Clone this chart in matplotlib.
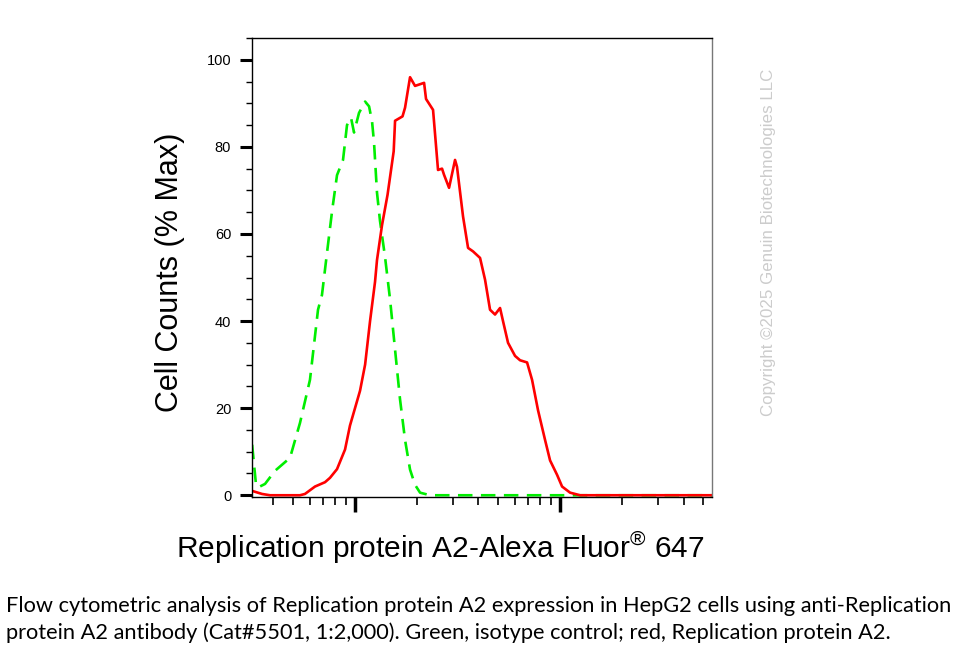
import numpy as np
import matplotlib
matplotlib.use("Agg")
import matplotlib.pyplot as plt
from matplotlib.ticker import LogLocator, NullFormatter, MultipleLocator

plt.rcParams['font.family'] = ['Liberation Sans', 'DejaVu Sans']
plt.rcParams['mathtext.fontset'] = 'custom'
plt.rcParams['mathtext.rm'] = 'Liberation Sans'

# fluorescence intensity (log scale) and % max counts
red_x = [31.5, 35.2, 38.5, 53.9, 57.0, 63.8, 71.4, 75.5, 81.7, 89.4, 94.5, 100,
         105.8, 112, 118.4, 125.2, 128.0, 135.4, 144.1, 154.4, 156.8, 170.5, 175.4,
         185.5, 196.2, 217.2, 222, 240.2, 254, 265.7, 271.7, 287.5, 307.5, 314.4,
         336.4, 355.9, 376.3, 407.2, 430.7, 455.5, 481.8, 509.7, 526.9, 557.6,
         603.2, 638.1, 690.4, 730.3, 781, 845, 893.8, 966.8, 1023, 1119, 1252, 5508]
red_y = [1.0, 0.3, 0, 0, 0.3, 2, 3, 4, 6, 10.5, 16, 20,
         24, 30, 40, 49, 54, 62, 69, 79, 86, 87, 89,
         96, 94, 94.7, 91, 88.5, 74.7, 75, 73.6, 70.6, 77, 75.4,
         64, 56.8, 56, 54.5, 49.5, 42.6, 41.5, 43, 40, 35,
         32, 31, 30.5, 26.5, 19.5, 12.7, 8, 4.7, 2, 0.6, 0, 0]

green_x = [31.5, 32.9, 33.7, 36.4, 40.7, 48.2, 53.9, 60.3, 66.0, 69.0, 73.5, 77.4,
           81.7, 87.4, 91.4, 95.6, 98.9, 104.6, 112, 117.1, 121.1, 123.8, 128.0,
           132.4, 140.1, 148.2, 156.8, 165.8, 175.4, 185.5, 196.2, 207.6, 232.2, 5508]
green_y = [11.6, 2.4, 1.8, 2.6, 5.6, 8.6, 16.6, 26.5, 42.6, 46, 56.8, 65.5,
           73.5, 77, 85, 86.7, 83.3, 87.8, 90.4, 89.3, 85.8, 81, 69.5,
           63, 54.7, 45, 33.4, 22, 12.7, 5.9, 2.4, 0.6, 0, 0]

x_range = (31.45, 5508)
y_range = (-0.4, 105)
y_ticks = [0, 20, 40, 60, 80, 100]

fig = plt.figure(figsize=(9.8, 6.54), dpi=100)
ax = fig.add_axes([252 / 980, 1 - 497 / 654, 460 / 980, 459 / 654])

ax.plot(green_x, green_y, color='#00ee00', lw=1.9, dashes=(5.5, 3.2))
ax.plot(red_x, red_y, color='#ff0000', lw=1.9)

ax.set_xscale('log')
ax.set_xlim(*x_range)
ax.set_ylim(*y_range)
ax.xaxis.set_major_locator(LogLocator(base=10))
ax.xaxis.set_minor_locator(LogLocator(base=10, subs=np.arange(2, 10)))
ax.xaxis.set_major_formatter(NullFormatter())
ax.xaxis.set_minor_formatter(NullFormatter())
ax.set_yticks(y_ticks)
ax.yaxis.set_minor_locator(MultipleLocator(5))

ax.tick_params(axis='x', which='major', length=11, width=2.5, direction='out')
ax.tick_params(axis='x', which='minor', length=6, width=1.2, direction='out')
ax.tick_params(axis='y', which='major', length=9, width=2.2, direction='out',
               labelsize=10.5, pad=6)
ax.tick_params(axis='y', which='minor', length=4, width=1, direction='out')
for s in ax.spines.values():
    s.set_linewidth(1)
ax.spines['right'].set_color('#777777')

fig.text(170 / 980, 1 - 272 / 654, 'Cell Counts (% Max)', rotation=90,
         ha='center', va='center', fontsize=22)
fig.text(440 / 980, 1 - 548 / 654, 'Replication protein A2-Alexa Fluor$^{®}$ 647',
         ha='center', va='center', fontsize=21.5)
fig.text(768 / 980, 1 - 242 / 654, 'Copyright ©2025 Genuin Biotechnologies LLC',
         rotation=90, ha='center', va='center', fontsize=12.2, color='#cccccc')

cap1 = "Flow cytometric analysis of Replication protein A2 expression in HepG2 cells using anti-Replication"
cap2 = "protein A2 antibody (Cat#5501, 1:2,000). Green, isotype control; red, Replication protein A2."
fig.text(6 / 980, 1 - 606 / 654, cap1, ha='left', va='center', fontsize=15.7,
         family=['Lato', 'DejaVu Sans'])
fig.text(6 / 980, 1 - 633 / 654, cap2, ha='left', va='center', fontsize=15.7,
         family=['Lato', 'DejaVu Sans'])

fig.savefig('out.png', dpi=100)
